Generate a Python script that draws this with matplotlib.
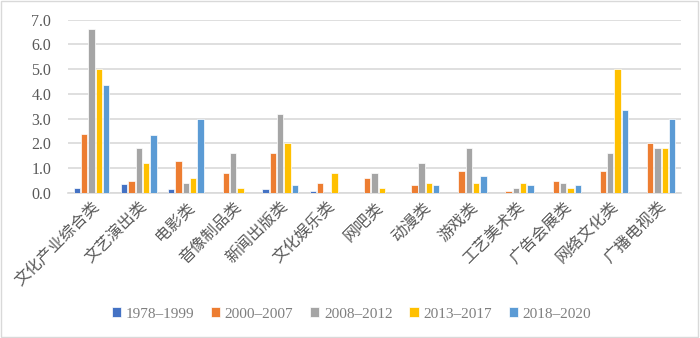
import matplotlib
matplotlib.use("Agg")
import matplotlib.pyplot as plt
import numpy as np
from matplotlib.patches import Rectangle

categories = ["文化产业综合类", "文艺演出类", "电影类", "音像制品类", "新闻出版类", "文化娱乐类",
              "网吧类", "动漫类", "游戏类", "工艺美术类", "广告会展类", "网络文化类", "广播电视类"]
series_names = ["1978–1999", "2000–2007", "2008–2012", "2013–2017", "2018–2020"]
s1978 = [0.22, 0.37, 0.18, 0.0, 0.18, 0.1, 0.0, 0.0, 0.0, 0.0, 0.0, 0.0, 0.0]
s2000 = [2.4, 0.5, 1.3, 0.8, 1.6, 0.42, 0.6, 0.31, 0.9, 0.1, 0.5, 0.9, 2.0]
s2008 = [6.6, 1.8, 0.4, 1.6, 3.2, 0.0, 0.8, 1.2, 1.8, 0.2, 0.42, 1.6, 1.8]
s2013 = [5.0, 1.2, 0.6, 0.2, 2.0, 0.8, 0.2, 0.42, 0.42, 0.42, 0.2, 5.0, 1.8]
s2018 = [4.35, 2.34, 3.0, 0.0, 0.33, 0.0, 0.0, 0.33, 0.67, 0.33, 0.33, 3.34, 3.0]
yticks = [0.0, 1.0, 2.0, 3.0, 4.0, 5.0, 6.0, 7.0]

colors = ["#4472C4", "#ED7D31", "#A5A5A5", "#FFC000", "#5B9BD5"]
data = [s1978, s2000, s2008, s2013, s2018]

serif = ["Liberation Serif", "DejaVu Serif"]
cjk = ["Noto Sans CJK SC", "DejaVu Sans"]

fig = plt.figure(figsize=(7.0, 3.38), dpi=100)
fig.patches.append(Rectangle((0.002, 0.003), 0.995, 0.993, transform=fig.transFigure,
                             fill=False, edgecolor="#D9D9D9", linewidth=1.0))
ax = fig.add_axes([68/700, 1-193/338, (681-68)/700, (193-19.5)/338])

x = np.arange(len(categories))
pitch = 0.155
width = 0.135
for i, (name, vals, c) in enumerate(zip(series_names, data, colors)):
    ax.bar(x + (i - 2) * pitch, vals, width=width, color=c, edgecolor="white",
           linewidth=0.5, label=name, zorder=3)

ax.set_xlim(-0.5, len(categories) - 0.5)
ax.set_ylim(0, 7)
ax.set_yticks(yticks)
ax.set_yticklabels([f"{v:.1f}" for v in yticks], fontfamily=serif, fontsize=11.5, color="#595959")
ax.tick_params(axis="y", length=0, pad=12)
ax.tick_params(axis="x", length=0, pad=4)
ax.yaxis.grid(True, color="#D9D9D9", linewidth=1.2, zorder=0)
ax.set_axisbelow(True)
for s in ["top", "right", "left"]:
    ax.spines[s].set_visible(False)
ax.spines["bottom"].set_color("#D9D9D9")
ax.spines["bottom"].set_linewidth(1.2)

ax.set_xticks(x)
ax.set_xticklabels(categories, rotation=45, ha="right", va="top", rotation_mode="anchor",
                   fontfamily=cjk, fontsize=11.5, color="#595959")

leg = fig.legend(loc="center", bbox_to_anchor=(0.502, 1 - 314/338), ncol=5, frameon=False,
                 prop={"family": serif, "size": 11}, handlelength=0.6, handleheight=0.6,
                 handletextpad=0.3, columnspacing=1.1, labelcolor="#7F7F7F")

fig.savefig("out.png", dpi=100)
